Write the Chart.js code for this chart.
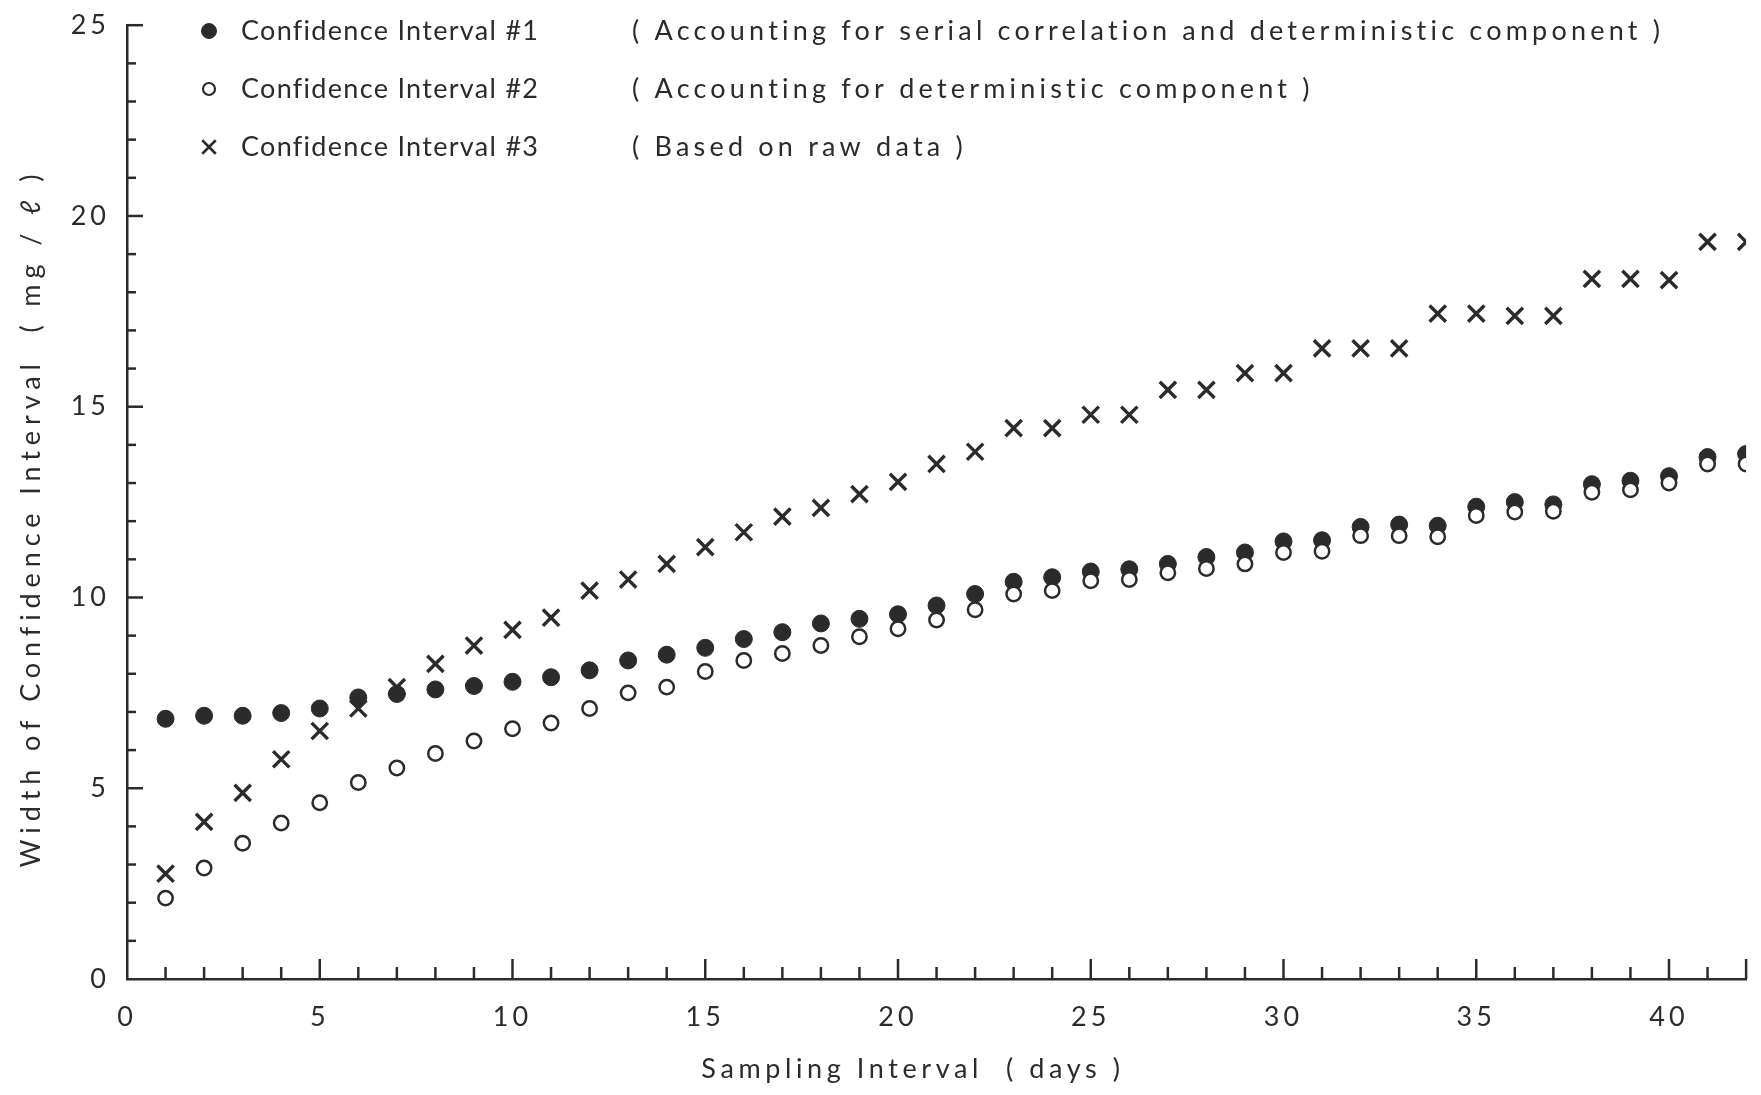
<!DOCTYPE html>
<html>
<head>
<meta charset="utf-8">
<title>Width of confidence interval vs sampling interval</title>
<script src="https://cdn.jsdelivr.net/npm/chart.js@4.4.1/dist/chart.umd.min.js"></script>
<style>
  html, body { margin: 0; padding: 0; background: #fff; }
</style>
</head>
<body>
<canvas id="chart" width="1761" height="1095"></canvas>
<script>
const DAYS = [1, 2, 3, 4, 5, 6, 7, 8, 9, 10, 11, 12, 13, 14, 15, 16, 17, 18, 19, 20, 21,
  22, 23, 24, 25, 26, 27, 28, 29, 30, 31, 32, 33, 34, 35, 36, 37, 38, 39, 40, 41, 42];

// CI #1: serial correlation + deterministic component (filled dots)
const CI_SERIAL = [6.82, 6.9, 6.9, 6.97, 7.09, 7.38, 7.47, 7.59, 7.68, 7.79, 7.91,
  8.09, 8.35, 8.5, 8.68, 8.91, 9.09, 9.32, 9.44, 9.56, 9.79, 10.09, 10.41, 10.53,
  10.68, 10.74, 10.88, 11.06, 11.18, 11.47, 11.5, 11.85, 11.91, 11.88, 12.38, 12.5,
  12.44, 12.97, 13.06, 13.18, 13.68, 13.76];

// CI #2: deterministic component only (open circles)
const CI_DETERMINISTIC = [2.12, 2.91, 3.56, 4.09, 4.62, 5.15, 5.53, 5.91, 6.24, 6.56,
  6.71, 7.09, 7.5, 7.65, 8.06, 8.35, 8.53, 8.74, 8.97, 9.18, 9.41, 9.68, 10.09, 10.18,
  10.44, 10.47, 10.65, 10.76, 10.88, 11.18, 11.21, 11.62, 11.62, 11.59, 12.15, 12.24,
  12.26, 12.76, 12.82, 13.0, 13.5, 13.5];

// CI #3: raw data (crosses)
const CI_RAW = [2.76, 4.12, 4.88, 5.76, 6.5, 7.09, 7.65, 8.26, 8.74, 9.15, 9.47, 10.18,
  10.47, 10.88, 11.32, 11.71, 12.12, 12.35, 12.71, 13.03, 13.5, 13.82, 14.44, 14.44,
  14.79, 14.79, 15.44, 15.44, 15.88, 15.88, 16.53, 16.53, 16.53, 17.44, 17.44, 17.38,
  17.38, 18.35, 18.35, 18.32, 19.32, 19.32];

const SERIES_NAMES = ["Confidence Interval #1", "Confidence Interval #2", "Confidence Interval #3"];
const SERIES_NOTES = [
  "( Accounting for serial correlation and deterministic component )",
  "( Accounting for deterministic component )",
  "( Based on raw data )",
];

const X_TITLE = "Sampling Interval  ( days )";
const Y_TITLE = "Width of Confidence Interval  ( mg / ℓ )";

const INK = "#2b2b2b";
const FONT = "Lato, 'DejaVu Sans', sans-serif";

const MARKERS = [
  { pointStyle: "circle", radius: 8.5, borderWidth: 1, fill: INK },
  { pointStyle: "circle", radius: 7.2, borderWidth: 2.5, fill: "#fff" },
  { pointStyle: "crossRot", radius: 11.5, borderWidth: 3.4, fill: INK },
];

function toPoints(values) {
  return DAYS.map((d, i) => ({ x: d, y: values[i] }));
}

function makeDataset(i, values, order) {
  const m = MARKERS[i];
  return {
    label: SERIES_NAMES[i],
    data: toPoints(values),
    order,
    showLine: false,
    pointStyle: m.pointStyle,
    pointRadius: m.radius,
    pointBorderWidth: m.borderWidth,
    pointBackgroundColor: m.fill,
    pointBorderColor: INK,
  };
}

// ticks drawn inward from the axes, plus legend and axis titles with wide letter spacing
const scanPlugin = {
  id: "scanPlugin",
  beforeDraw(chart) {
    chart.ctx.letterSpacing = "4px";
  },
  afterDraw(chart) {
    const { ctx, scales: { x, y } } = chart;
    ctx.save();
    ctx.strokeStyle = INK;
    ctx.lineWidth = 2.5;
    ctx.lineCap = "butt";

    x.ticks.forEach((t) => {
      if (t.value === 0) return;
      const px = x.getPixelForValue(t.value);
      const len = t.value % 5 === 0 || t.value === x.max ? 20 : 12;
      ctx.beginPath();
      ctx.moveTo(px, x.top);
      ctx.lineTo(px, x.top - len);
      ctx.stroke();
    });

    y.ticks.forEach((t) => {
      if (t.value === 0) return;
      const py = y.getPixelForValue(t.value);
      const len = t.value % 5 === 0 ? 16 : 9;
      ctx.beginPath();
      ctx.moveTo(y.right, py);
      ctx.lineTo(y.right + len, py);
      ctx.stroke();
    });

    // legend
    const rowY = [31, 89, 147];
    ctx.fillStyle = INK;
    ctx.textBaseline = "middle";
    ctx.textAlign = "left";
    ctx.font = "27px " + FONT;
    SERIES_NAMES.forEach((name, i) => {
      const m = MARKERS[i];
      ctx.save();
      ctx.fillStyle = i === 1 ? "#fff" : INK;
      ctx.strokeStyle = INK;
      ctx.lineWidth = i === 1 ? 2.2 : (i === 2 ? 2.6 : 1);
      Chart.helpers.drawPoint(ctx, {
        pointStyle: m.pointStyle,
        radius: i === 1 ? 6 : (i === 2 ? 9.5 : 7.5),
        rotation: 0,
        borderWidth: ctx.lineWidth,
      }, 209, rowY[i]);
      ctx.restore();
      ctx.letterSpacing = "1.3px";
      ctx.fillText(name, 241, rowY[i]);
      ctx.letterSpacing = "4.2px";
      ctx.fillText(SERIES_NOTES[i], 632, rowY[i]);
    });

    // axis titles
    ctx.textAlign = "center";
    ctx.letterSpacing = "4.6px";
    ctx.fillText(X_TITLE, 913, 1069);
    ctx.translate(31, 518);
    ctx.rotate(-Math.PI / 2);
    ctx.letterSpacing = "5.9px";
    ctx.fillText(Y_TITLE, 0, 0);
    ctx.restore();
    ctx.letterSpacing = "0px";
  },
};

new Chart(document.getElementById("chart"), {
  type: "scatter",
  data: {
    datasets: [
      makeDataset(0, CI_SERIAL, 1),
      makeDataset(1, CI_DETERMINISTIC, 0),
      makeDataset(2, CI_RAW, 2),
    ],
  },
  options: {
    responsive: false,
    animation: false,
    devicePixelRatio: 1,
    layout: { padding: { top: 25, right: 8, left: 0, bottom: 0 } },
    plugins: { legend: { display: false }, tooltip: { enabled: false } },
    scales: {
      x: {
        type: "linear",
        min: 0,
        max: 42,
        grid: { display: false },
        border: { display: true, color: INK, width: 2.5 },
        ticks: {
          stepSize: 1,
          autoSkip: false,
          maxRotation: 0,
          padding: 14,
          color: INK,
          font: { family: FONT, size: 27 },
          callback: (v) => (v % 5 === 0 ? String(v) : ""),
        },
        afterFit: (scale) => { scale.height = 116; },
      },
      y: {
        type: "linear",
        min: 0,
        max: 25,
        grid: { display: false },
        border: { display: true, color: INK, width: 2.5 },
        ticks: {
          stepSize: 1,
          autoSkip: false,
          padding: 9,
          color: INK,
          font: { family: FONT, size: 27 },
          callback: (v) => (v % 5 === 0 ? String(v) : ""),
        },
        afterFit: (scale) => { scale.width = 127; },
      },
    },
  },
  plugins: [scanPlugin],
});
</script>
</body>
</html>
